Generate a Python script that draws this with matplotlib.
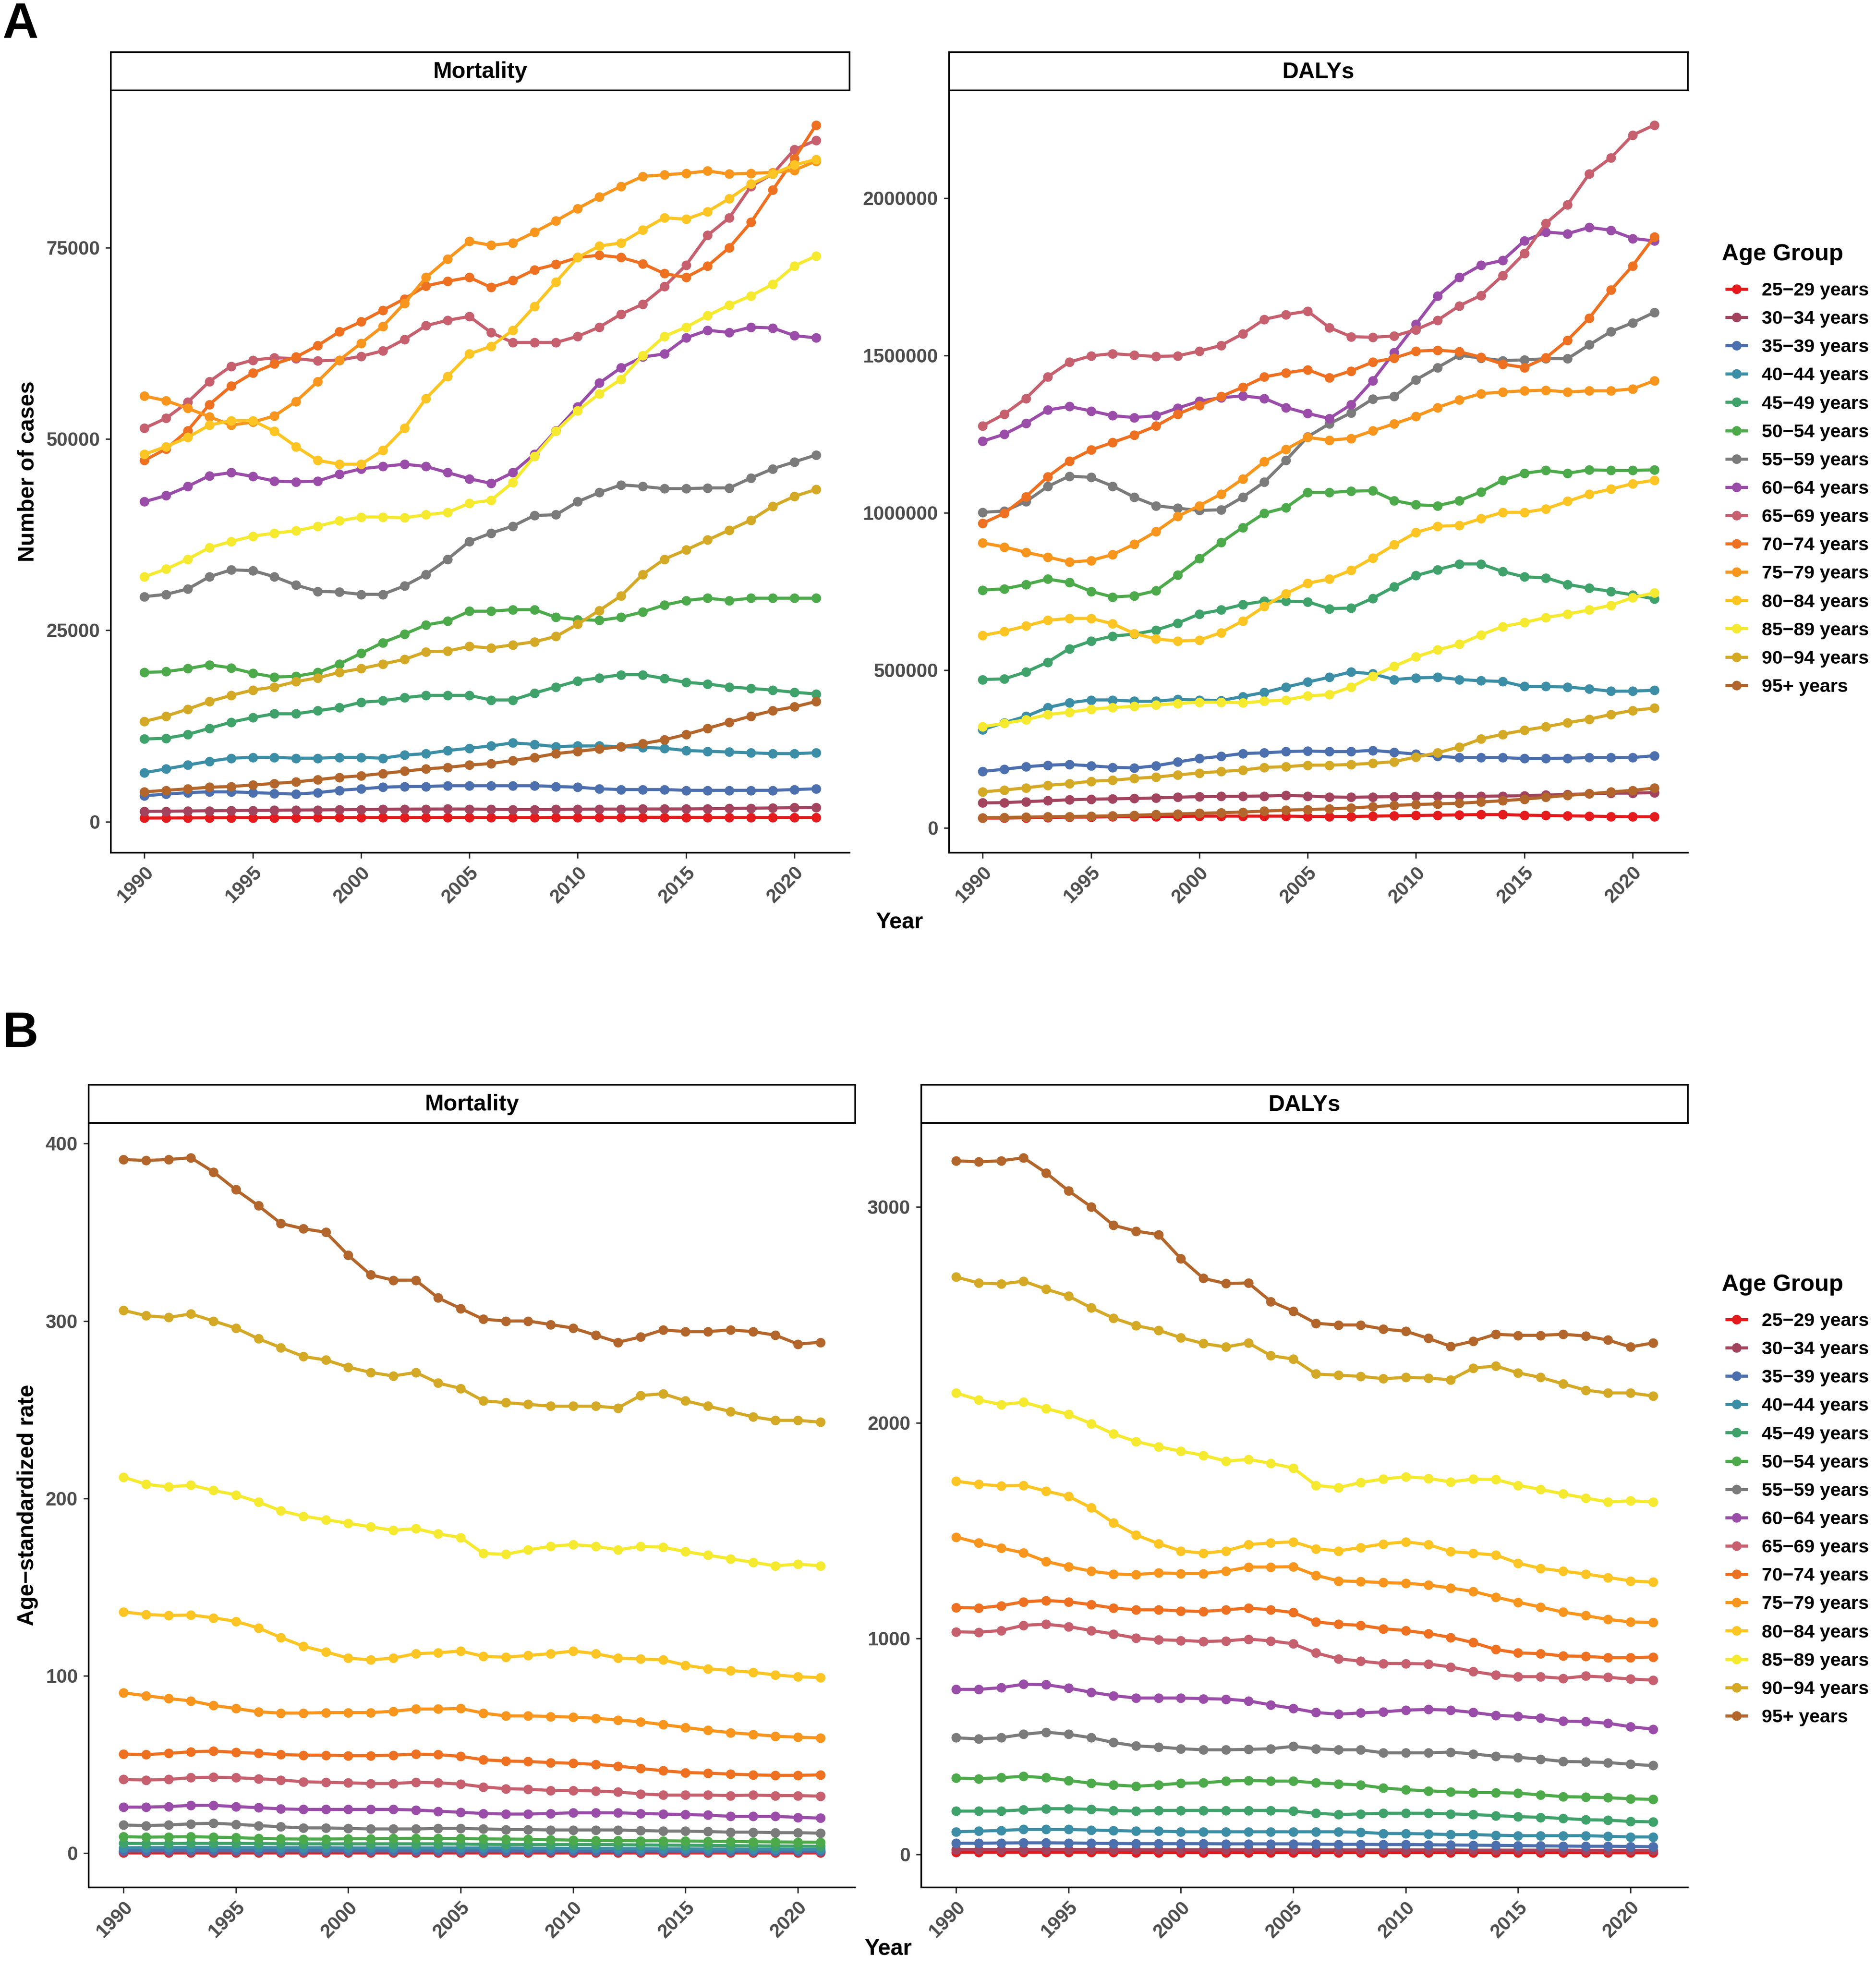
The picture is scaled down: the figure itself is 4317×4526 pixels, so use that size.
import matplotlib
matplotlib.use("Agg")
import matplotlib.pyplot as plt

plt.rcParams['font.family'] = ['Liberation Sans', 'DejaVu Sans']

years = list(range(1990, 2022))

age_groups = ['25−29 years', '30−34 years', '35−39 years', '40−44 years', '45−49 years',
              '50−54 years', '55−59 years', '60−64 years', '65−69 years', '70−74 years',
              '75−79 years', '80−84 years', '85−89 years', '90−94 years', '95+ years']

colors = ['#E41A1C', '#A3445F', '#4C6FAE', '#3B8EA5', '#40A26B',
          '#4DAA4B', '#7B7B7B', '#9A4DA8', '#C6606E', '#EE7021',
          '#F8951D', '#FCC523', '#F5EA2F', '#D4A926', '#B3662B']

# panel A, mortality: number of cases (rows follow age_groups)
mort_cases = [
    [480, 490, 500, 510, 520, 520, 520, 520, 530, 530, 540, 540, 540, 540, 540, 540,
     530, 530, 530, 540, 550, 560, 560, 570, 570, 560, 550, 550, 540, 540, 530, 530],
    [1350, 1370, 1400, 1430, 1460, 1480, 1500, 1520, 1540, 1570, 1600, 1620, 1640, 1650, 1660, 1650,
     1620, 1600, 1600, 1610, 1630, 1640, 1650, 1660, 1660, 1670, 1700, 1730, 1770, 1800, 1830, 1860],
    [3400, 3600, 3800, 3900, 3900, 3800, 3700, 3600, 3800, 4100, 4300, 4500, 4600, 4600, 4700, 4700,
     4700, 4700, 4700, 4600, 4500, 4300, 4200, 4200, 4200, 4100, 4100, 4100, 4100, 4100, 4200, 4300],
    [6400, 6900, 7400, 7900, 8300, 8400, 8400, 8300, 8300, 8400, 8400, 8300, 8700, 8900, 9300, 9600,
     9900, 10300, 10100, 9800, 9900, 9900, 9800, 9700, 9600, 9300, 9200, 9100, 9000, 8900, 8900, 9000],
    [10800, 10900, 11400, 12200, 13000, 13600, 14100, 14100, 14500, 14900, 15600, 15800, 16200, 16500, 16500, 16500,
     15900, 15900, 16800, 17600, 18400, 18800, 19200, 19200, 18700, 18200, 18000, 17600, 17400, 17200, 16900, 16700],
    [19500, 19600, 20000, 20500, 20100, 19400, 18900, 19000, 19500, 20600, 22000, 23400, 24500, 25700, 26200, 27500,
     27500, 27700, 27700, 26700, 26400, 26300, 26700, 27400, 28300, 28900, 29200, 28900, 29200, 29200, 29200, 29200],
    [29400, 29700, 30400, 32000, 32900, 32800, 32000, 30900, 30100, 30000, 29700, 29700, 30800, 32300, 34300, 36600,
     37700, 38600, 40000, 40100, 41800, 43000, 44000, 43800, 43500, 43500, 43600, 43600, 44900, 46100, 47000, 47900],
    [41800, 42600, 43800, 45200, 45600, 45100, 44500, 44400, 44500, 45400, 46100, 46400, 46700, 46400, 45600, 44800,
     44200, 45600, 48000, 51100, 54200, 57300, 59300, 60700, 61100, 63200, 64200, 63900, 64600, 64500, 63500, 63200],
    [51400, 52700, 54800, 57500, 59500, 60300, 60600, 60500, 60200, 60300, 60800, 61500, 63000, 64800, 65500, 66000,
     63900, 62600, 62600, 62600, 63400, 64600, 66300, 67600, 69900, 72700, 76600, 78900, 83000, 84600, 87800, 89000],
    [47200, 48700, 51100, 54500, 56900, 58600, 59800, 60700, 62200, 64000, 65300, 66800, 68300, 70000, 70600, 71100,
     69800, 70700, 72100, 72800, 73700, 74000, 73700, 72900, 71600, 71100, 72600, 75000, 78300, 82500, 86600, 91000],
    [55600, 55000, 54000, 52900, 51800, 52200, 53000, 54900, 57500, 60300, 62500, 64700, 67700, 71100, 73500, 75800,
     75300, 75600, 77000, 78500, 80100, 81600, 83000, 84300, 84500, 84700, 85000, 84600, 84700, 84800, 85100, 86300],
    [48000, 49000, 50200, 51800, 52400, 52400, 51000, 49000, 47200, 46700, 46700, 48500, 51400, 55300, 58200, 61100,
     62100, 64200, 67300, 70500, 73700, 75200, 75600, 77300, 78900, 78700, 79700, 81400, 83300, 84600, 85800, 86500],
    [32000, 33000, 34300, 35800, 36600, 37300, 37700, 38000, 38600, 39300, 39800, 39800, 39700, 40100, 40400, 41600,
     42000, 44300, 47700, 51000, 53700, 55900, 57800, 60900, 63400, 64600, 66100, 67500, 68700, 70200, 72600, 73900],
    [13100, 13800, 14700, 15700, 16500, 17200, 17600, 18300, 18800, 19500, 20000, 20600, 21200, 22200, 22300, 22900,
     22700, 23100, 23500, 24200, 25800, 27600, 29500, 32300, 34300, 35500, 36800, 38100, 39400, 41200, 42500, 43400],
    [3900, 4100, 4300, 4500, 4600, 4800, 5000, 5200, 5500, 5800, 6000, 6300, 6600, 6900, 7100, 7400,
     7600, 8000, 8400, 8900, 9200, 9500, 9800, 10200, 10700, 11400, 12200, 13000, 13800, 14500, 15000, 15700],
]

# panel A, DALYs: number of cases
daly_cases = [
    [31000, 31000, 32000, 33000, 34000, 34000, 35000, 35000, 36000, 36000, 37000, 37000, 37000, 37000, 37000, 36000,
     36000, 36000, 37000, 38000, 39000, 40000, 41000, 42000, 42000, 40000, 39000, 38000, 37000, 36000, 35000, 35000],
    [79000, 80000, 83000, 86000, 89000, 91000, 92000, 93000, 95000, 97000, 99000, 100000, 100000, 101000, 103000, 101000,
     98000, 97000, 98000, 99000, 100000, 100000, 100000, 100000, 101000, 102000, 104000, 106000, 108000, 110000, 110000, 112000],
    [179000, 186000, 194000, 199000, 201000, 197000, 192000, 190000, 197000, 209000, 220000, 227000, 236000, 238000, 242000, 244000,
     242000, 242000, 246000, 240000, 234000, 227000, 223000, 223000, 223000, 220000, 220000, 221000, 223000, 223000, 223000, 229000],
    [312000, 334000, 354000, 382000, 397000, 406000, 406000, 402000, 402000, 408000, 406000, 404000, 417000, 430000, 447000, 463000,
     478000, 495000, 489000, 471000, 476000, 478000, 471000, 467000, 465000, 449000, 449000, 447000, 441000, 434000, 434000, 437000],
    [471000, 473000, 495000, 526000, 569000, 593000, 609000, 615000, 628000, 650000, 679000, 692000, 709000, 720000, 720000, 718000,
     696000, 698000, 729000, 766000, 801000, 820000, 838000, 838000, 814000, 797000, 794000, 773000, 761000, 751000, 740000, 727000],
    [755000, 759000, 773000, 790000, 779000, 751000, 733000, 737000, 753000, 803000, 855000, 906000, 954000, 999000, 1017000, 1065000,
     1065000, 1069000, 1071000, 1039000, 1026000, 1023000, 1039000, 1067000, 1104000, 1126000, 1135000, 1126000, 1137000, 1135000, 1135000, 1137000],
    [1002000, 1006000, 1036000, 1084000, 1117000, 1113000, 1085000, 1050000, 1023000, 1015000, 1008000, 1010000, 1050000, 1098000, 1167000, 1242000,
     1283000, 1318000, 1362000, 1370000, 1423000, 1462000, 1501000, 1492000, 1484000, 1486000, 1490000, 1490000, 1534000, 1576000, 1604000, 1637000],
    [1228000, 1250000, 1285000, 1327000, 1338000, 1324000, 1309000, 1303000, 1309000, 1333000, 1355000, 1366000, 1372000, 1364000, 1335000, 1316000,
     1300000, 1344000, 1420000, 1510000, 1599000, 1689000, 1748000, 1787000, 1802000, 1864000, 1892000, 1887000, 1907000, 1898000, 1872000, 1864000],
    [1277000, 1314000, 1364000, 1432000, 1479000, 1499000, 1506000, 1501000, 1497000, 1499000, 1514000, 1532000, 1569000, 1615000, 1630000, 1641000,
     1589000, 1560000, 1558000, 1562000, 1582000, 1612000, 1658000, 1691000, 1754000, 1824000, 1920000, 1979000, 2077000, 2128000, 2200000, 2232000],
    [967000, 999000, 1052000, 1115000, 1165000, 1200000, 1224000, 1248000, 1276000, 1314000, 1342000, 1370000, 1399000, 1432000, 1445000, 1455000,
     1429000, 1451000, 1479000, 1492000, 1514000, 1517000, 1512000, 1495000, 1473000, 1462000, 1493000, 1549000, 1619000, 1708000, 1785000, 1877000],
    [905000, 892000, 875000, 860000, 844000, 849000, 868000, 901000, 941000, 989000, 1023000, 1060000, 1108000, 1163000, 1202000, 1240000,
     1231000, 1237000, 1261000, 1283000, 1307000, 1335000, 1359000, 1379000, 1384000, 1388000, 1390000, 1384000, 1388000, 1388000, 1394000, 1420000],
    [611000, 624000, 641000, 659000, 665000, 665000, 648000, 617000, 600000, 593000, 596000, 620000, 657000, 703000, 744000, 777000,
     790000, 818000, 857000, 899000, 938000, 958000, 960000, 982000, 1002000, 1002000, 1013000, 1037000, 1060000, 1076000, 1093000, 1104000],
    [321000, 332000, 343000, 360000, 367000, 377000, 382000, 386000, 390000, 395000, 399000, 399000, 397000, 402000, 406000, 419000,
     423000, 447000, 482000, 513000, 543000, 565000, 583000, 613000, 639000, 652000, 668000, 679000, 692000, 707000, 731000, 746000],
    [114000, 120000, 127000, 135000, 140000, 148000, 151000, 157000, 161000, 168000, 174000, 179000, 183000, 192000, 194000, 199000,
     199000, 201000, 205000, 210000, 225000, 238000, 257000, 282000, 297000, 310000, 321000, 334000, 345000, 360000, 373000, 380000],
    [32000, 33000, 34000, 35000, 36000, 37000, 38000, 40000, 42000, 44000, 46000, 48000, 50000, 53000, 56000, 58000,
     60000, 63000, 67000, 71000, 74000, 76000, 78000, 82000, 86000, 91000, 97000, 103000, 108000, 114000, 119000, 126000],
]

# panel B, mortality: age-standardized rate
mort_rate = [
    [0.3, 0.3, 0.3, 0.3, 0.3, 0.3, 0.3, 0.3, 0.3, 0.3, 0.3, 0.3, 0.3, 0.3, 0.3, 0.3,
     0.3, 0.3, 0.3, 0.3, 0.3, 0.3, 0.3, 0.3, 0.3, 0.3, 0.3, 0.3, 0.3, 0.3, 0.3, 0.3],
    [0.8, 0.8, 0.8, 0.8, 0.8, 0.8, 0.8, 0.8, 0.8, 0.8, 0.8, 0.8, 0.8, 0.8, 0.8, 0.8,
     0.8, 0.7, 0.7, 0.7, 0.7, 0.7, 0.7, 0.7, 0.7, 0.7, 0.7, 0.7, 0.7, 0.7, 0.7, 0.7],
    [1.6, 1.6, 1.7, 1.7, 1.7, 1.7, 1.6, 1.6, 1.6, 1.6, 1.6, 1.6, 1.6, 1.6, 1.6, 1.6,
     1.6, 1.5, 1.5, 1.5, 1.5, 1.4, 1.4, 1.4, 1.4, 1.3, 1.3, 1.3, 1.3, 1.3, 1.2, 1.2],
    [3.1, 3.1, 3.2, 3.3, 3.3, 3.2, 3.2, 3.1, 3.1, 3.1, 3.0, 3.0, 3.0, 3.0, 3.0, 3.0,
     3.0, 3.0, 2.9, 2.8, 2.7, 2.7, 2.6, 2.6, 2.5, 2.5, 2.4, 2.4, 2.3, 2.3, 2.2, 2.2],
    [5.6, 5.5, 5.5, 5.6, 5.6, 5.6, 5.5, 5.4, 5.3, 5.3, 5.3, 5.3, 5.3, 5.3, 5.3, 5.2,
     5.0, 4.9, 4.9, 4.9, 4.9, 4.9, 4.8, 4.7, 4.6, 4.5, 4.4, 4.3, 4.2, 4.1, 4.0, 3.9],
    [9.3, 9.1, 9.2, 9.3, 9.1, 8.8, 8.4, 8.1, 8.0, 8.0, 8.2, 8.2, 8.3, 8.4, 8.3, 8.3,
     8.1, 8.0, 7.9, 7.6, 7.4, 7.2, 7.1, 7.0, 7.0, 6.9, 6.8, 6.6, 6.5, 6.4, 6.3, 6.2],
    [15.9, 15.6, 15.9, 16.6, 16.9, 16.3, 15.6, 14.9, 14.3, 14.3, 14.0, 13.7, 13.7, 13.7, 14.0, 14.0,
     13.7, 13.4, 13.4, 13.1, 13.1, 13.1, 13.1, 12.8, 12.5, 12.5, 12.2, 11.9, 11.9, 11.6, 11.6, 11.3],
    [26.0, 26.0, 26.3, 27.0, 27.0, 26.3, 25.7, 25.0, 24.7, 24.7, 24.7, 24.7, 24.7, 24.4, 23.7, 23.1,
     22.4, 22.1, 22.1, 22.4, 22.8, 22.8, 22.8, 22.4, 22.1, 21.8, 21.5, 20.8, 20.8, 20.8, 20.2, 19.8],
    [41.6, 41.3, 41.6, 42.6, 42.9, 42.6, 42.0, 41.3, 40.3, 40.0, 39.7, 39.3, 39.3, 40.0, 39.7, 39.0,
     37.4, 36.4, 36.1, 35.4, 35.4, 35.1, 34.5, 33.5, 32.8, 32.8, 32.8, 32.5, 32.8, 32.5, 32.5, 32.2],
    [55.9, 55.6, 56.3, 57.2, 57.6, 56.9, 56.3, 55.6, 55.3, 55.3, 55.0, 55.0, 55.3, 55.9, 55.6, 54.6,
     52.7, 52.0, 51.7, 51.1, 50.7, 50.1, 49.1, 47.8, 46.5, 45.5, 45.2, 44.6, 44.2, 43.9, 43.9, 44.2],
    [90.4, 88.8, 87.2, 85.9, 83.3, 81.6, 79.7, 79.0, 79.0, 79.3, 79.3, 79.3, 80.0, 81.3, 81.3, 81.6,
     79.0, 77.4, 77.4, 77.1, 76.7, 76.1, 75.1, 74.1, 72.5, 70.9, 69.3, 68.0, 67.0, 66.0, 65.4, 65.0],
    [136.0, 134.6, 134.0, 134.3, 132.7, 130.7, 127.0, 121.6, 116.7, 113.5, 110.0, 109.0, 110.0, 112.5, 113.0, 114.0,
     111.0, 110.5, 111.5, 112.5, 114.0, 112.5, 110.0, 109.5, 109.0, 106.0, 104.0, 103.0, 102.0, 100.5, 99.5, 99.0],
    [212.0, 208.0, 206.5, 207.5, 204.5, 202.0, 198.0, 193.0, 190.0, 188.0, 186.0, 184.0, 182.0, 183.0, 180.0, 178.0,
     169.0, 168.5, 171.0, 173.0, 174.0, 173.0, 171.0, 173.0, 172.5, 170.0, 168.0, 166.0, 164.0, 162.0, 163.0, 162.0],
    [306.0, 303.0, 302.0, 304.0, 300.0, 296.0, 290.0, 285.0, 280.0, 278.0, 274.0, 271.0, 269.0, 271.0, 265.0, 262.0,
     255.0, 254.0, 253.0, 252.0, 252.0, 252.0, 251.0, 258.0, 259.0, 255.0, 252.0, 249.0, 246.0, 244.0, 244.0, 243.0],
    [391.0, 390.5, 391.0, 392.0, 384.0, 374.0, 365.0, 355.0, 352.0, 350.0, 337.0, 326.0, 323.0, 323.0, 313.0, 307.0,
     301.0, 300.0, 300.0, 298.0, 296.0, 292.0, 288.0, 291.0, 295.0, 294.0, 294.0, 295.0, 294.0, 292.0, 287.0, 288.0],
]

# panel B, DALYs: age-standardized rate
daly_rate = [
    [9, 9, 9, 9, 9, 9, 9, 9, 8, 8, 8, 8, 8, 8, 8, 8,
     8, 8, 8, 8, 8, 8, 8, 8, 8, 8, 8, 8, 8, 7, 7, 7],
    [22, 22, 22, 22, 22, 22, 22, 21, 21, 21, 21, 21, 21, 21, 21, 21,
     20, 20, 20, 20, 20, 20, 20, 19, 19, 19, 19, 19, 18, 18, 18, 18],
    [51, 51, 52, 53, 53, 52, 51, 50, 49, 49, 49, 49, 48, 48, 48, 48,
     47, 46, 46, 45, 45, 44, 43, 42, 41, 40, 39, 38, 37, 37, 36, 35],
    [104, 107, 110, 115, 115, 115, 112, 110, 107, 107, 104, 104, 104, 104, 104, 104,
     104, 104, 102, 96, 96, 94, 91, 91, 88, 86, 86, 86, 86, 83, 80, 80],
    [200, 200, 200, 206, 211, 211, 208, 203, 200, 203, 203, 203, 203, 203, 203, 200,
     190, 184, 187, 190, 190, 190, 187, 184, 179, 174, 171, 166, 160, 158, 152, 150],
    [353, 350, 355, 361, 355, 342, 329, 321, 315, 321, 329, 331, 339, 342, 339, 339,
     331, 326, 321, 307, 299, 294, 289, 286, 286, 283, 275, 267, 265, 262, 257, 254],
    [540, 534, 540, 556, 566, 556, 540, 518, 502, 497, 489, 484, 484, 486, 489, 500,
     489, 484, 484, 470, 470, 470, 473, 465, 454, 449, 441, 430, 428, 425, 417, 411],
    [764, 764, 772, 788, 786, 770, 751, 735, 724, 724, 724, 721, 719, 711, 692, 676,
     657, 649, 655, 660, 668, 671, 668, 657, 644, 639, 631, 617, 615, 607, 591, 580],
    [1031, 1029, 1037, 1061, 1066, 1055, 1037, 1021, 1002, 994, 991, 986, 989, 997, 989, 975,
     933, 906, 895, 884, 884, 882, 868, 847, 831, 823, 823, 815, 826, 820, 812, 807],
    [1144, 1141, 1152, 1170, 1176, 1170, 1157, 1141, 1133, 1133, 1128, 1125, 1133, 1141, 1133, 1120,
     1077, 1066, 1061, 1045, 1037, 1023, 1005, 981, 949, 933, 930, 919, 917, 911, 911, 914],
    [1470, 1443, 1419, 1397, 1357, 1333, 1312, 1299, 1296, 1304, 1301, 1301, 1312, 1331, 1331, 1333,
     1293, 1267, 1264, 1259, 1256, 1248, 1234, 1218, 1192, 1168, 1146, 1122, 1106, 1088, 1077, 1074],
    [1729, 1715, 1707, 1710, 1683, 1659, 1606, 1536, 1480, 1440, 1406, 1395, 1406, 1435, 1443, 1448,
     1416, 1406, 1422, 1438, 1448, 1435, 1403, 1395, 1387, 1349, 1325, 1312, 1299, 1283, 1267, 1261],
    [2138, 2106, 2084, 2095, 2066, 2039, 1996, 1948, 1913, 1889, 1868, 1849, 1822, 1830, 1812, 1790,
     1710, 1699, 1723, 1739, 1750, 1742, 1726, 1739, 1737, 1710, 1691, 1670, 1651, 1633, 1638, 1633],
    [2675, 2648, 2643, 2656, 2619, 2587, 2533, 2485, 2450, 2429, 2394, 2367, 2351, 2370, 2311, 2295,
     2226, 2220, 2215, 2204, 2210, 2207, 2199, 2253, 2263, 2231, 2210, 2180, 2151, 2138, 2138, 2124],
    [3214, 3209, 3214, 3228, 3158, 3075, 3001, 2915, 2888, 2872, 2760, 2669, 2645, 2648, 2562, 2517,
     2461, 2453, 2453, 2434, 2424, 2391, 2354, 2378, 2410, 2405, 2405, 2410, 2402, 2383, 2351, 2370],
]

year_ticks = [1990, 1995, 2000, 2005, 2010, 2015, 2020]
mort_cases_ticks = [0, 25000, 50000, 75000]
daly_cases_ticks = [0, 500000, 1000000, 1500000, 2000000]
mort_rate_ticks = [0, 100, 200, 300, 400]
daly_rate_ticks = [0, 1000, 2000, 3000]

W, H = 4317, 4526
fig = plt.figure(figsize=(W / 300, H / 300), dpi=300)
STRIP_H = 88 / H
TICK_COLOR = '#4D4D4D'


def draw_panel(rect, title, table, yticks):
    ax = fig.add_axes(rect)
    for label, color, values in zip(age_groups, colors, table):
        ax.plot(years, values, color=color, lw=1.7, marker='o', ms=4.3,
                label=label, solid_capstyle='butt')
    ax.margins(x=0.05, y=0.05)
    ax.set_xticks(year_ticks)
    ax.set_xticklabels([str(y) for y in year_ticks], rotation=45, ha='right',
                       va='top', rotation_mode='anchor')
    ax.set_yticks(yticks)
    ax.set_yticklabels([str(v) for v in yticks])
    for side in ['top', 'right']:
        ax.spines[side].set_visible(False)
    for side in ['left', 'bottom']:
        ax.spines[side].set_linewidth(0.9)
    ax.tick_params(length=3.0, width=0.8, color='#333333', labelcolor=TICK_COLOR,
                   labelsize=10.7, pad=3)
    for lab in ax.get_xticklabels() + ax.get_yticklabels():
        lab.set_fontweight('bold')

    l, b, w, h = rect
    strip = fig.add_axes([l, b + h, w, STRIP_H])
    strip.set_xticks([])
    strip.set_yticks([])
    for sp in strip.spines.values():
        sp.set_linewidth(0.9)
    strip.text(0.5, 0.48, title, ha='center', va='center', fontsize=12.5,
               fontweight='bold', transform=strip.transAxes)
    return ax


ax_a1 = draw_panel([255 / W, 1 - 1962 / H, 1700 / W, 1754 / H], 'Mortality',
                   mort_cases, mort_cases_ticks)
ax_a2 = draw_panel([2184 / W, 1 - 1962 / H, 1700 / W, 1754 / H], 'DALYs',
                   daly_cases, daly_cases_ticks)
ax_b1 = draw_panel([204 / W, 1 - 4343 / H, 1764 / W, 1759 / H], 'Mortality',
                   mort_rate, mort_rate_ticks)
ax_b2 = draw_panel([2120 / W, 1 - 4343 / H, 1764 / W, 1759 / H], 'DALYs',
                   daly_rate, daly_rate_ticks)

label_style = dict(fontsize=12.4, fontweight='bold', color='black')
fig.text(2070 / W, 1 - 2122 / H, 'Year', ha='center', va='center', **label_style)
fig.text(2044 / W, 1 - 4484 / H, 'Year', ha='center', va='center', **label_style)
fig.text(64 / W, 1 - 1085 / H, 'Number of cases', rotation=90, ha='center',
         va='center', **label_style)
fig.text(64 / W, 1 - 3463 / H, 'Age−standardized rate', rotation=90, ha='center',
         va='center', **label_style)

fig.text(5 / W, 1 - 3 / H, 'A', ha='left', va='top', fontsize=27.5, fontweight='bold')
fig.text(5 / W, 1 - 2325 / H, 'B', ha='left', va='top', fontsize=27.5, fontweight='bold')

# legends: title drawn separately, entries block centred on measured rows
for ax, title_y, rows_y in [(ax_a1, 585, 1125), (ax_b1, 2956, 3496)]:
    fig.text(3962 / W, 1 - title_y / H, 'Age Group', ha='left', va='center',
             fontsize=13, fontweight='bold')
    handles, labels = ax.get_legend_handles_labels()
    fig.legend(handles, labels, loc='center left',
               bbox_to_anchor=(3970 / W, 1 - rows_y / H), frameon=False,
               prop={'weight': 'bold', 'size': 10.4},
               handlelength=1.2, handletextpad=0.75, labelspacing=0.58,
               borderpad=0, borderaxespad=0)

fig.savefig('out.png', dpi=300, facecolor='white')
